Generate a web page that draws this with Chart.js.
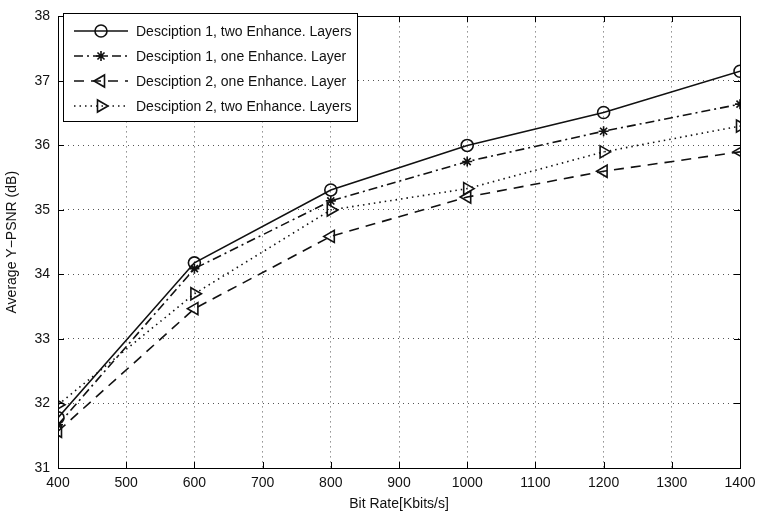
<!DOCTYPE html>
<html><head><meta charset="utf-8">
<script src="https://cdn.jsdelivr.net/npm/chart.js@4/dist/chart.umd.min.js"></script>
<style>html,body{margin:0;padding:0;background:#fff}#wrap{width:764px;height:525px}</style>
</head><body><div id="wrap"><canvas id="c" width="764" height="525"></canvas></div>
<script>
const bitRates = [400, 600, 800, 1000, 1200, 1400];
const d1Two = [31.78, 34.18, 35.31, 36.0, 36.51, 37.15];
const d1One = [31.67, 34.09, 35.14, 35.75, 36.22, 36.64];
const d2One = [31.57, 33.47, 34.59, 35.2, 35.6, 35.9];
const d2Two = [31.98, 33.7, 35.0, 35.33, 35.9, 36.3];
const seriesNames = ['Desciption 1, two Enhance. Layers','Desciption 1, one Enhance. Layer','Desciption 2, one Enhance. Layer','Desciption 2, two Enhance. Layers'];
const xTitle = 'Bit Rate[Kbits/s]';
const yTitle = 'Average Y\u2212PSNR (dB)';

const FONT = '"Liberation Sans", Arial, sans-serif';
const pts = arr => arr.map((v,i)=>({x:bitRates[i], y:v}));
const styles = [
  {dash:[], ps:'circle', r:6, rot:0},
  {dash:[9,4,2,4], ps:'star', r:5, rot:0},
  {dash:[10,7], ps:'triangle', r:7, rot:-90},
  {dash:[1.5,4], ps:'triangle', r:7, rot:90}
];
const allData = [d1Two, d1One, d2One, d2Two];
const datasets = allData.map((d,i)=>({
  label: seriesNames[i], data: pts(d),
  borderColor:'#111', backgroundColor:'rgba(0,0,0,0)', borderWidth:1.6,
  borderDash: styles[i].dash, pointStyle: styles[i].ps, pointRadius: styles[i].r,
  pointRotation: styles[i].rot, pointBorderColor:'#111', pointBorderWidth:1.6,
  pointBackgroundColor:'rgba(0,0,0,0)', tension:0
}));

const frame = {
  id:'frame',
  afterDraw(chart){
    const {ctx, chartArea:a, scales} = chart;
    ctx.save();
    ctx.fillStyle='#000';
    const L=Math.round(a.left), R=Math.round(a.right), T=Math.round(a.top), B=Math.round(a.bottom);
    ctx.fillRect(L,T,R-L+1,1); ctx.fillRect(L,B,R-L+1,1);
    ctx.fillRect(L,T,1,B-T+1); ctx.fillRect(R,T,1,B-T+1);
    // inward ticks
    const tl=6;
    scales.x.ticks.forEach(t=>{const x=Math.round(scales.x.getPixelForValue(t.value));
      ctx.fillRect(x,B-tl,1,tl); ctx.fillRect(x,T,1,tl);});
    scales.y.ticks.forEach(t=>{const y=Math.round(scales.y.getPixelForValue(t.value));
      ctx.fillRect(L,y,tl,1); ctx.fillRect(R-tl,y,tl,1);});
    // legend
    const lx=63.5, ly=13.5, lw=294, lh=108;
    ctx.fillStyle='#fff'; ctx.fillRect(lx,ly,lw,lh);
    ctx.strokeStyle='#000'; ctx.lineWidth=1; ctx.setLineDash([]); ctx.strokeRect(lx,ly,lw,lh);
    ctx.font='14px '+FONT; ctx.textBaseline='middle';
    const rows=[31,56,81,106];
    rows.forEach((ry,i)=>{
      const s=styles[i];
      ctx.strokeStyle='#111'; ctx.lineWidth=1.6; ctx.setLineDash(s.dash);
      ctx.beginPath(); ctx.moveTo(74,ry); ctx.lineTo(128,ry); ctx.stroke();
      ctx.setLineDash([]);
      ctx.fillStyle='rgba(0,0,0,0)';
      Chart.helpers.drawPoint(ctx,{pointStyle:s.ps, rotation:s.rot, radius:s.r, borderWidth:1.6}, 101, ry);
      ctx.fillStyle='#111';
      ctx.fillText(seriesNames[i], 136, ry+1);
    });
    ctx.restore();
  }
};

new Chart(document.getElementById('c'), {
  type:'line',
  data:{datasets},
  plugins:[frame],
  options:{
    responsive:false, animation:false, devicePixelRatio:1,
    layout:{padding:{top:12,right:24,left:0,bottom:0}},
    plugins:{legend:{display:false}, tooltip:{enabled:false}},
    scales:{
      x:{type:'linear', min:400, max:1400,
        ticks:{stepSize:100, color:'#111', font:{family:FONT,size:14}, padding:7, maxRotation:0,
          callback:v=>String(v)},
        grid:{color:'#555', lineWidth:1, drawTicks:false},
        border:{display:false, dash:[1,4]},
        title:{display:true, text:xTitle, color:'#111', font:{family:FONT,size:14}, padding:{top:0,bottom:12}},
        afterFit(s){s.height=57;}
      },
      y:{min:31, max:38,
        ticks:{stepSize:1, color:'#111', font:{family:FONT,size:14}, padding:8, callback:v=>String(v)},
        grid:{color:'#555', lineWidth:1, drawTicks:false},
        border:{display:false, dash:[1,4]},
        title:{display:true, text:yTitle, color:'#111', font:{family:FONT,size:14}, padding:{top:4,bottom:0}},
        afterFit(s){s.width=58;}
      }
    }
  }
});
</script></body></html>
